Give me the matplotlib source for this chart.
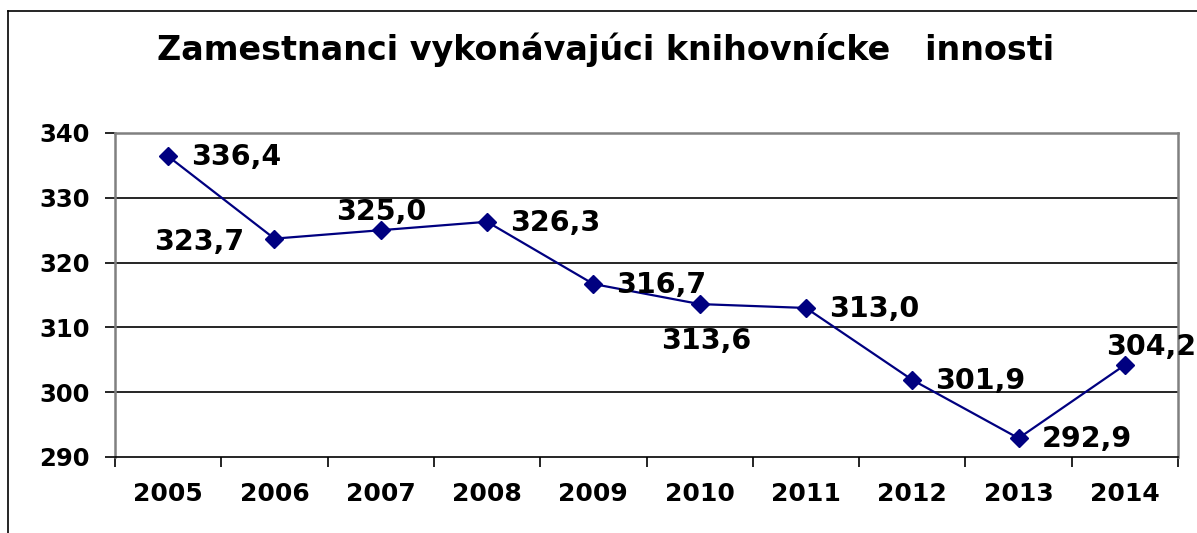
import numpy as np
import matplotlib.pyplot as plt
from matplotlib.lines import Line2D

plt.rcParams['font.family'] = ['DejaVu Sans']
plt.rcParams['font.weight'] = 'bold'

years = ['2005', '2006', '2007', '2008', '2009', '2010', '2011', '2012', '2013', '2014']
values = [336.4, 323.7, 325.0, 326.3, 316.7, 313.6, 313.0, 301.9, 292.9, 304.2]
# where each value label sits relative to its point
label_pos = ['right', 'left', 'above', 'right', 'right', 'below', 'right', 'right', 'right', 'aboveright']

navy = '#000080'

fig = plt.figure(figsize=(11.97, 5.33), dpi=100)
ax = fig.add_axes([115/1197, 1 - 457/533, (1178-115)/1197, (457-133)/533])

x = np.arange(len(years))
ax.plot(x, values, color=navy, lw=1.6, marker='D', ms=9, mfc=navy, mec=navy, zorder=3)

ax.set_xlim(-0.5, len(years) - 0.5)
ax.set_ylim(290, 340)
ax.set_yticks(np.arange(290, 341, 10))
ax.set_xticks(x)
ax.set_xticklabels(years, fontsize=18, fontweight='bold')
ax.set_xticks(np.arange(-0.5, len(years), 1), minor=True)
ax.tick_params(axis='x', which='major', length=0, pad=18)
ax.tick_params(axis='x', which='minor', length=7, width=1.2, color='black', direction='out')
ax.tick_params(axis='y', length=7, width=1.2, pad=11, labelsize=17.5)
for t in ax.get_yticklabels():
    t.set_fontweight('bold')

for yv in [300, 310, 320, 330]:
    ax.axhline(yv, color='black', lw=1.2, zorder=1)

for s in ['top', 'left', 'right']:
    ax.spines[s].set_color('#808080')
    ax.spines[s].set_linewidth(1.8)
ax.spines['bottom'].set_color('black')
ax.spines['bottom'].set_linewidth(1.2)

# pixel offsets of each label from its point
offsets = {'right': (23, -1, 'left'),
           'left': (-30, -3, 'right'),
           'above': (0, 18, 'center'),
           'below': (7, -37, 'center'),
           'aboveright': (-19, 18, 'left')}
for xi, v, p in zip(x, values, label_pos):
    dx, dy, ha = offsets[p]
    ax.annotate(f'{v:.1f}'.replace('.', ','), (xi, v), xytext=(dx, dy),
                textcoords='offset pixels', ha=ha, va='center',
                fontsize=20.5, fontweight='bold', color='black', zorder=4,
                annotation_clip=False)

fig.text(606/1197, 1 - 50/533, 'Zamestnanci vykonávajúci knihovnícke   innosti',
         ha='center', va='center', fontsize=24, fontweight='bold')

# outer chart frame (only top and left edges visible)
fig.add_artist(Line2D([8/1197, 8/1197], [0, 1 - 11/533], color='black', lw=1.2, transform=fig.transFigure))
fig.add_artist(Line2D([8/1197, 1], [1 - 11/533, 1 - 11/533], color='black', lw=1.2, transform=fig.transFigure))

fig.savefig('out.png', dpi=100)
